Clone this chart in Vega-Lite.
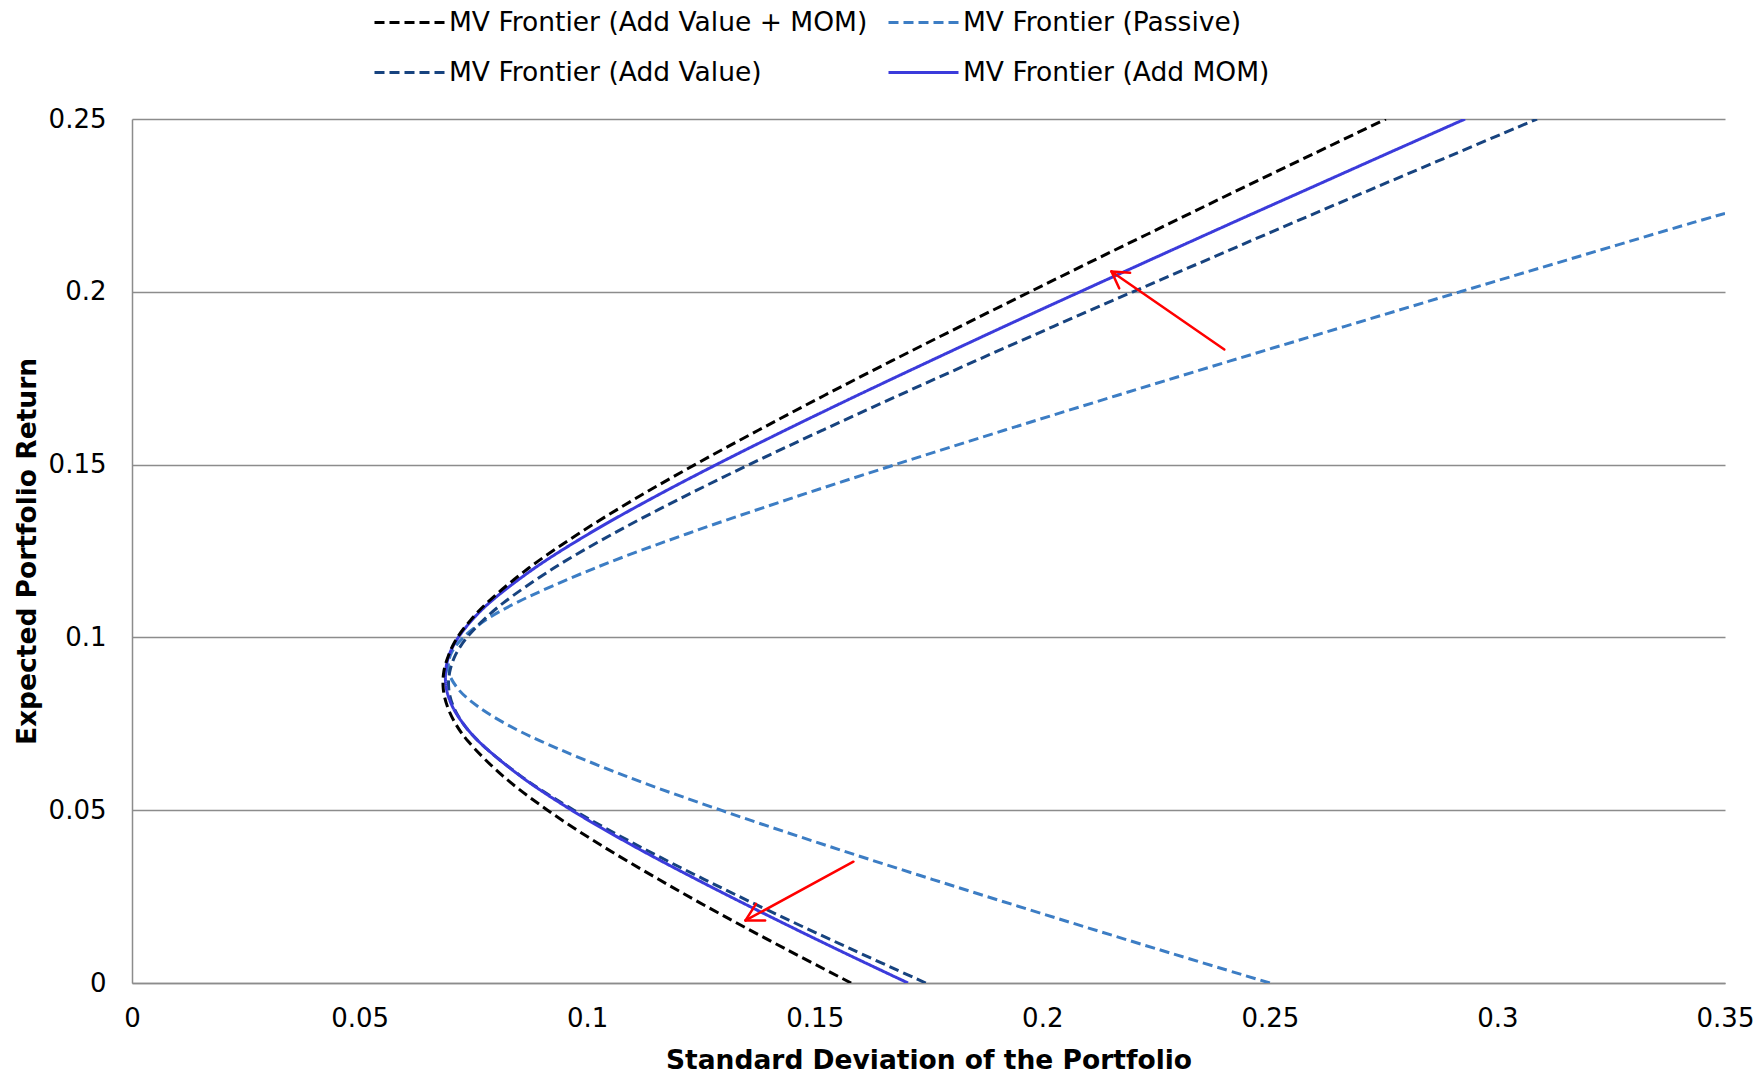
{
  "$schema": "https://vega.github.io/schema/vega-lite/v6.json",
  "width": 1593,
  "height": 864,
  "autosize": {"type": "none"},
  "padding": {"left": 132, "top": 119, "right": 31, "bottom": 90},
  "background": "white",
  "config": {"view": {"stroke": null}, "font": "DejaVu Sans"},
  "datasets": {
    "frontier": [
      {"series": "MV Frontier (Passive)", "ret": 0, "sd": 0.2500},
      {"series": "MV Frontier (Passive)", "ret": 0.01, "sd": 0.2248},
      {"series": "MV Frontier (Passive)", "ret": 0.02, "sd": 0.2001},
      {"series": "MV Frontier (Passive)", "ret": 0.03, "sd": 0.1758},
      {"series": "MV Frontier (Passive)", "ret": 0.04, "sd": 0.1521},
      {"series": "MV Frontier (Passive)", "ret": 0.05, "sd": 0.1294},
      {"series": "MV Frontier (Passive)", "ret": 0.06, "sd": 0.1082},
      {"series": "MV Frontier (Passive)", "ret": 0.07, "sd": 0.0898},
      {"series": "MV Frontier (Passive)", "ret": 0.075, "sd": 0.0821},
      {"series": "MV Frontier (Passive)", "ret": 0.08, "sd": 0.0760},
      {"series": "MV Frontier (Passive)", "ret": 0.085, "sd": 0.0717},
      {"series": "MV Frontier (Passive)", "ret": 0.09, "sd": 0.0696},
      {"series": "MV Frontier (Passive)", "ret": 0.095, "sd": 0.0700},
      {"series": "MV Frontier (Passive)", "ret": 0.1, "sd": 0.0728},
      {"series": "MV Frontier (Passive)", "ret": 0.105, "sd": 0.0777},
      {"series": "MV Frontier (Passive)", "ret": 0.11, "sd": 0.0844},
      {"series": "MV Frontier (Passive)", "ret": 0.12, "sd": 0.1016},
      {"series": "MV Frontier (Passive)", "ret": 0.13, "sd": 0.1220},
      {"series": "MV Frontier (Passive)", "ret": 0.14, "sd": 0.1443},
      {"series": "MV Frontier (Passive)", "ret": 0.15, "sd": 0.1677},
      {"series": "MV Frontier (Passive)", "ret": 0.16, "sd": 0.1918},
      {"series": "MV Frontier (Passive)", "ret": 0.17, "sd": 0.2164},
      {"series": "MV Frontier (Passive)", "ret": 0.18, "sd": 0.2413},
      {"series": "MV Frontier (Passive)", "ret": 0.19, "sd": 0.2665},
      {"series": "MV Frontier (Passive)", "ret": 0.2, "sd": 0.2918},
      {"series": "MV Frontier (Passive)", "ret": 0.21, "sd": 0.3173},
      {"series": "MV Frontier (Passive)", "ret": 0.22, "sd": 0.3429},
      {"series": "MV Frontier (Passive)", "ret": 0.2227, "sd": 0.3500},

      {"series": "MV Frontier (Add Value)", "ret": 0, "sd": 0.1744},
      {"series": "MV Frontier (Add Value)", "ret": 0.01, "sd": 0.1577},
      {"series": "MV Frontier (Add Value)", "ret": 0.02, "sd": 0.1414},
      {"series": "MV Frontier (Add Value)", "ret": 0.03, "sd": 0.1257},
      {"series": "MV Frontier (Add Value)", "ret": 0.04, "sd": 0.1108},
      {"series": "MV Frontier (Add Value)", "ret": 0.05, "sd": 0.0971},
      {"series": "MV Frontier (Add Value)", "ret": 0.06, "sd": 0.0853},
      {"series": "MV Frontier (Add Value)", "ret": 0.07, "sd": 0.0761},
      {"series": "MV Frontier (Add Value)", "ret": 0.075, "sd": 0.0728},
      {"series": "MV Frontier (Add Value)", "ret": 0.08, "sd": 0.0706},
      {"series": "MV Frontier (Add Value)", "ret": 0.085, "sd": 0.0696},
      {"series": "MV Frontier (Add Value)", "ret": 0.09, "sd": 0.0698},
      {"series": "MV Frontier (Add Value)", "ret": 0.095, "sd": 0.0711},
      {"series": "MV Frontier (Add Value)", "ret": 0.1, "sd": 0.0736},
      {"series": "MV Frontier (Add Value)", "ret": 0.105, "sd": 0.0772},
      {"series": "MV Frontier (Add Value)", "ret": 0.11, "sd": 0.0816},
      {"series": "MV Frontier (Add Value)", "ret": 0.12, "sd": 0.0926},
      {"series": "MV Frontier (Add Value)", "ret": 0.13, "sd": 0.1057},
      {"series": "MV Frontier (Add Value)", "ret": 0.14, "sd": 0.1202},
      {"series": "MV Frontier (Add Value)", "ret": 0.15, "sd": 0.1356},
      {"series": "MV Frontier (Add Value)", "ret": 0.16, "sd": 0.1518},
      {"series": "MV Frontier (Add Value)", "ret": 0.17, "sd": 0.1684},
      {"series": "MV Frontier (Add Value)", "ret": 0.18, "sd": 0.1853},
      {"series": "MV Frontier (Add Value)", "ret": 0.19, "sd": 0.2025},
      {"series": "MV Frontier (Add Value)", "ret": 0.2, "sd": 0.2199},
      {"series": "MV Frontier (Add Value)", "ret": 0.21, "sd": 0.2375},
      {"series": "MV Frontier (Add Value)", "ret": 0.22, "sd": 0.2551},
      {"series": "MV Frontier (Add Value)", "ret": 0.23, "sd": 0.2729},
      {"series": "MV Frontier (Add Value)", "ret": 0.24, "sd": 0.2908},
      {"series": "MV Frontier (Add Value)", "ret": 0.25, "sd": 0.3087},

      {"series": "MV Frontier (Add MOM)", "ret": 0, "sd": 0.1705},
      {"series": "MV Frontier (Add MOM)", "ret": 0.01, "sd": 0.1545},
      {"series": "MV Frontier (Add MOM)", "ret": 0.02, "sd": 0.1390},
      {"series": "MV Frontier (Add MOM)", "ret": 0.03, "sd": 0.1240},
      {"series": "MV Frontier (Add MOM)", "ret": 0.04, "sd": 0.1097},
      {"series": "MV Frontier (Add MOM)", "ret": 0.05, "sd": 0.0966},
      {"series": "MV Frontier (Add MOM)", "ret": 0.06, "sd": 0.0852},
      {"series": "MV Frontier (Add MOM)", "ret": 0.07, "sd": 0.0761},
      {"series": "MV Frontier (Add MOM)", "ret": 0.075, "sd": 0.0728},
      {"series": "MV Frontier (Add MOM)", "ret": 0.08, "sd": 0.0704},
      {"series": "MV Frontier (Add MOM)", "ret": 0.085, "sd": 0.0691},
      {"series": "MV Frontier (Add MOM)", "ret": 0.09, "sd": 0.0689},
      {"series": "MV Frontier (Add MOM)", "ret": 0.095, "sd": 0.0697},
      {"series": "MV Frontier (Add MOM)", "ret": 0.1, "sd": 0.0717},
      {"series": "MV Frontier (Add MOM)", "ret": 0.105, "sd": 0.0747},
      {"series": "MV Frontier (Add MOM)", "ret": 0.11, "sd": 0.0785},
      {"series": "MV Frontier (Add MOM)", "ret": 0.12, "sd": 0.0884},
      {"series": "MV Frontier (Add MOM)", "ret": 0.13, "sd": 0.1004},
      {"series": "MV Frontier (Add MOM)", "ret": 0.14, "sd": 0.1139},
      {"series": "MV Frontier (Add MOM)", "ret": 0.15, "sd": 0.1284},
      {"series": "MV Frontier (Add MOM)", "ret": 0.16, "sd": 0.1436},
      {"series": "MV Frontier (Add MOM)", "ret": 0.17, "sd": 0.1593},
      {"series": "MV Frontier (Add MOM)", "ret": 0.18, "sd": 0.1754},
      {"series": "MV Frontier (Add MOM)", "ret": 0.19, "sd": 0.1917},
      {"series": "MV Frontier (Add MOM)", "ret": 0.2, "sd": 0.2083},
      {"series": "MV Frontier (Add MOM)", "ret": 0.21, "sd": 0.2250},
      {"series": "MV Frontier (Add MOM)", "ret": 0.22, "sd": 0.2418},
      {"series": "MV Frontier (Add MOM)", "ret": 0.23, "sd": 0.2588},
      {"series": "MV Frontier (Add MOM)", "ret": 0.24, "sd": 0.2758},
      {"series": "MV Frontier (Add MOM)", "ret": 0.25, "sd": 0.2929},

      {"series": "MV Frontier (Add Value + MOM)", "ret": 0, "sd": 0.1580},
      {"series": "MV Frontier (Add Value + MOM)", "ret": 0.01, "sd": 0.1434},
      {"series": "MV Frontier (Add Value + MOM)", "ret": 0.02, "sd": 0.1292},
      {"series": "MV Frontier (Add Value + MOM)", "ret": 0.03, "sd": 0.1157},
      {"series": "MV Frontier (Add Value + MOM)", "ret": 0.04, "sd": 0.1029},
      {"series": "MV Frontier (Add Value + MOM)", "ret": 0.05, "sd": 0.0913},
      {"series": "MV Frontier (Add Value + MOM)", "ret": 0.06, "sd": 0.0814},
      {"series": "MV Frontier (Add Value + MOM)", "ret": 0.07, "sd": 0.0738},
      {"series": "MV Frontier (Add Value + MOM)", "ret": 0.075, "sd": 0.0711},
      {"series": "MV Frontier (Add Value + MOM)", "ret": 0.08, "sd": 0.0693},
      {"series": "MV Frontier (Add Value + MOM)", "ret": 0.085, "sd": 0.0684},
      {"series": "MV Frontier (Add Value + MOM)", "ret": 0.09, "sd": 0.0685},
      {"series": "MV Frontier (Add Value + MOM)", "ret": 0.095, "sd": 0.0696},
      {"series": "MV Frontier (Add Value + MOM)", "ret": 0.1, "sd": 0.0715},
      {"series": "MV Frontier (Add Value + MOM)", "ret": 0.105, "sd": 0.0744},
      {"series": "MV Frontier (Add Value + MOM)", "ret": 0.11, "sd": 0.0780},
      {"series": "MV Frontier (Add Value + MOM)", "ret": 0.12, "sd": 0.0871},
      {"series": "MV Frontier (Add Value + MOM)", "ret": 0.13, "sd": 0.0981},
      {"series": "MV Frontier (Add Value + MOM)", "ret": 0.14, "sd": 0.1104},
      {"series": "MV Frontier (Add Value + MOM)", "ret": 0.15, "sd": 0.1237},
      {"series": "MV Frontier (Add Value + MOM)", "ret": 0.16, "sd": 0.1377},
      {"series": "MV Frontier (Add Value + MOM)", "ret": 0.17, "sd": 0.1521},
      {"series": "MV Frontier (Add Value + MOM)", "ret": 0.18, "sd": 0.1669},
      {"series": "MV Frontier (Add Value + MOM)", "ret": 0.19, "sd": 0.1820},
      {"series": "MV Frontier (Add Value + MOM)", "ret": 0.2, "sd": 0.1973},
      {"series": "MV Frontier (Add Value + MOM)", "ret": 0.21, "sd": 0.2127},
      {"series": "MV Frontier (Add Value + MOM)", "ret": 0.22, "sd": 0.2283},
      {"series": "MV Frontier (Add Value + MOM)", "ret": 0.23, "sd": 0.2439},
      {"series": "MV Frontier (Add Value + MOM)", "ret": 0.24, "sd": 0.2597},
      {"series": "MV Frontier (Add Value + MOM)", "ret": 0.25, "sd": 0.2755}
    ],
    "arrows": [
      {"part": "shaft1", "sd": 0.2400, "ret": 0.1833, "sd2": 0.2152, "ret2": 0.2059},
      {"part": "head1a", "sd": 0.2152, "ret": 0.2059, "sd2": 0.2193, "ret2": 0.2055},
      {"part": "head1b", "sd": 0.2152, "ret": 0.2059, "sd2": 0.2169, "ret2": 0.2010},
      {"part": "shaft2", "sd": 0.1585, "ret": 0.0351, "sd2": 0.1348, "ret2": 0.0181},
      {"part": "head2a", "sd": 0.1348, "ret": 0.0181, "sd2": 0.1391, "ret2": 0.0181},
      {"part": "head2b", "sd": 0.1348, "ret": 0.0181, "sd2": 0.1371, "ret2": 0.0229}
    ]
  },
  "layer": [
    {
      "data": {"name": "frontier"},
      "mark": {"type": "line", "strokeWidth": 3, "interpolate": "catmull-rom", "clip": true},
      "encoding": {
        "x": {
          "field": "sd", "type": "quantitative",
          "scale": {"domain": [0, 0.35], "nice": false, "zero": false},
          "axis": {
            "title": "Standard Deviation of the Portfolio",
            "values": [0, 0.05, 0.1, 0.15, 0.2, 0.25, 0.3, 0.35],
            "format": "~g",
            "grid": false, "ticks": false,
            "domainColor": "#8c8c8c", "domainWidth": 1.5,
            "labelFont": "DejaVu Sans", "labelFontSize": 26, "labelColor": "#000000",
            "labelPadding": 22, "labelOverlap": false, "labelBound": false, "labelFlush": false,
            "titleFont": "DejaVu Sans", "titleFontSize": 26.5, "titleFontWeight": "bold", "titleColor": "#000000",
            "titlePadding": 16
          }
        },
        "y": {
          "field": "ret", "type": "quantitative",
          "scale": {"domain": [0, 0.25], "nice": false, "zero": false},
          "axis": {
            "title": "Expected Portfolio Return",
            "values": [0, 0.05, 0.1, 0.15, 0.2, 0.25],
            "format": "~g",
            "grid": true, "gridColor": "#8c8c8c", "gridWidth": 1.5,
            "ticks": false,
            "domainColor": "#8c8c8c", "domainWidth": 1.5,
            "labelFont": "DejaVu Sans", "labelFontSize": 26, "labelColor": "#000000",
            "labelPadding": 26, "labelOverlap": false, "labelBound": false, "labelFlush": false,
            "titleFont": "DejaVu Sans", "titleFontSize": 26.5, "titleFontWeight": "bold", "titleColor": "#000000",
            "titlePadding": 7
          }
        },
        "color": {
          "field": "series", "type": "nominal",
          "scale": {
            "domain": ["MV Frontier (Add Value + MOM)", "MV Frontier (Passive)", "MV Frontier (Add Value)", "MV Frontier (Add MOM)"],
            "range": ["#000000", "#3C7DC4", "#17437F", "#3B3BDB"]
          },
          "legend": {
            "title": null, "orient": "none", "legendX": 241, "legendY": -133,
            "direction": "horizontal", "columns": 2,
            "labelFont": "DejaVu Sans", "labelFontSize": 26.5, "labelColor": "#000000", "labelLimit": 900,
            "symbolType": "stroke", "symbolSize": 4900, "symbolStrokeWidth": 3,
            "labelOffset": 3, "columnPadding": 14, "rowPadding": -1.5
          }
        },
        "strokeDash": {
          "field": "series", "type": "nominal",
          "scale": {
            "domain": ["MV Frontier (Add Value + MOM)", "MV Frontier (Passive)", "MV Frontier (Add Value)", "MV Frontier (Add MOM)"],
            "range": [[10, 5], [10, 5], [10, 5], [1, 0]]
          },
          "legend": {
            "title": null, "orient": "none", "legendX": 241, "legendY": -133,
            "direction": "horizontal", "columns": 2,
            "labelFont": "DejaVu Sans", "labelFontSize": 26.5, "labelColor": "#000000", "labelLimit": 900,
            "symbolType": "stroke", "symbolSize": 4900, "symbolStrokeWidth": 3,
            "labelOffset": 3, "columnPadding": 14, "rowPadding": -1.5
          }
        },
        "order": {"field": "ret", "type": "quantitative"}
      }
    },
    {
      "data": {"name": "arrows"},
      "mark": {"type": "rule", "color": "#FF0000", "strokeWidth": 2.5, "strokeCap": "round"},
      "encoding": {
        "x": {"field": "sd", "type": "quantitative"},
        "y": {"field": "ret", "type": "quantitative"},
        "x2": {"field": "sd2"},
        "y2": {"field": "ret2"}
      }
    }
  ]
}
